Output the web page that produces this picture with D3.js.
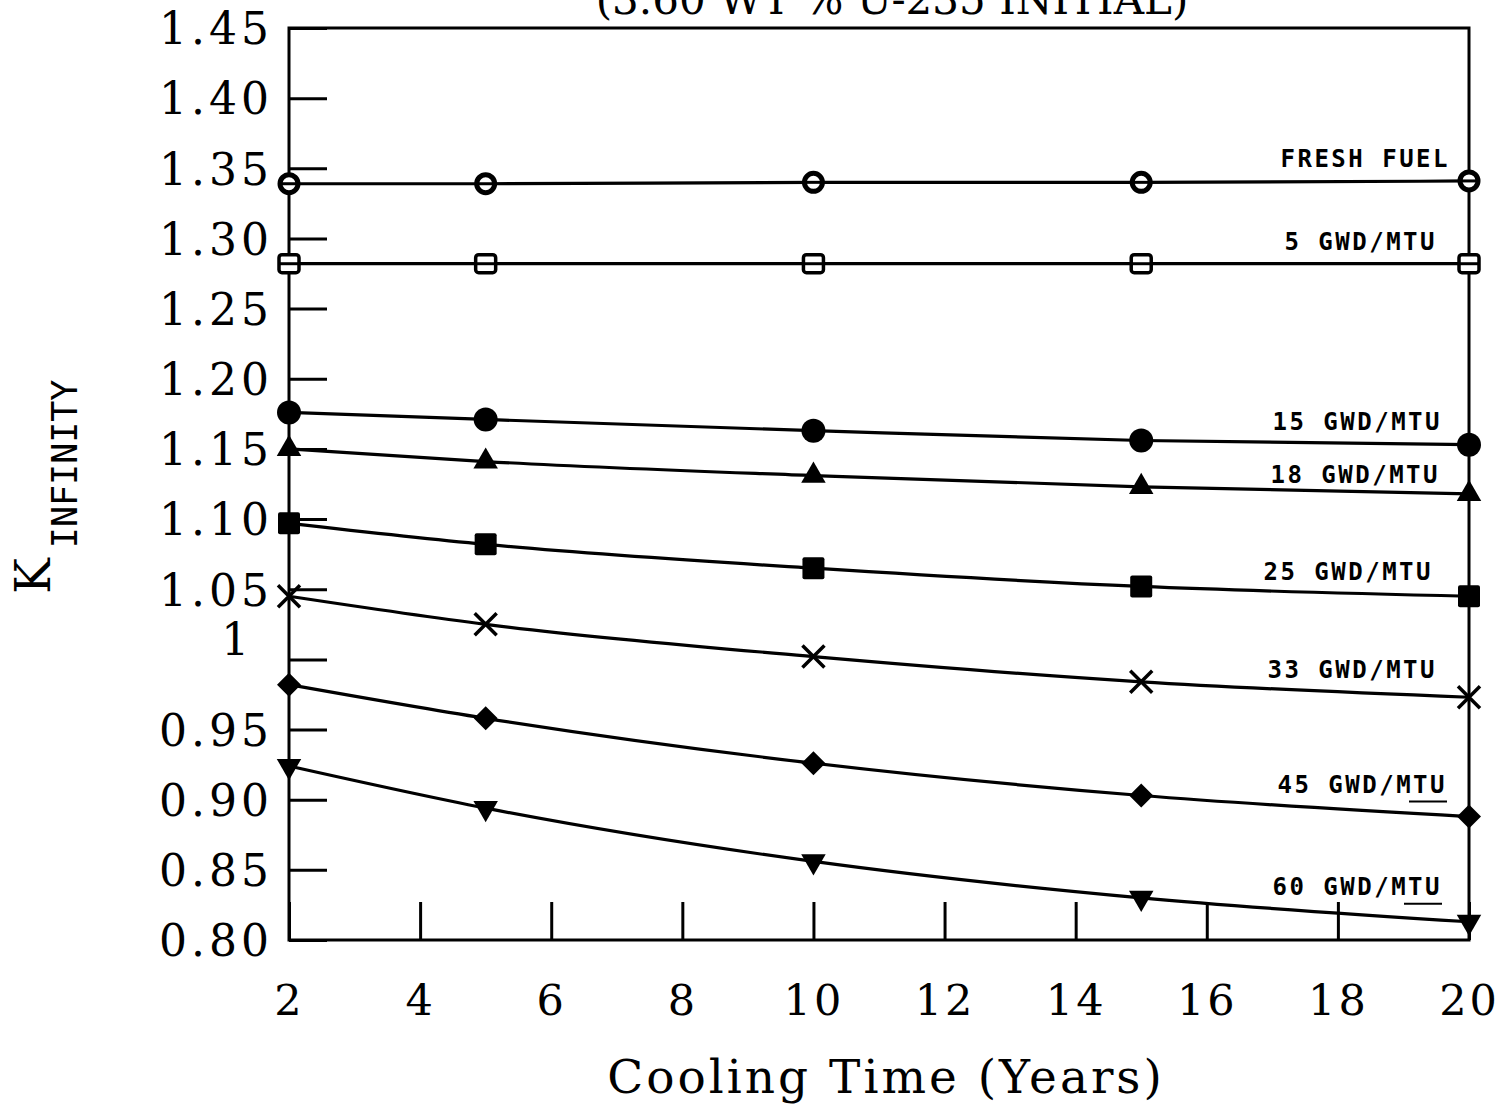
<!DOCTYPE html>
<html>
<head>
<meta charset="utf-8">
<script src="https://cdn.jsdelivr.net/npm/d3@7"></script>
<style>
  body { margin: 0; background: #fff; }
  svg { display: block; }
  .tick text { font-family: "DejaVu Serif", serif; fill: #000; }
  .lbl { font-family: "DejaVu Sans Mono", monospace; font-weight: bold; fill: #000; }
</style>
</head>
<body>
<svg id="chart" width="1504" height="1106"></svg>
<script>
// cooling times (years) where the calculations were done
const years = [2, 5, 10, 15, 20];

// k-infinity per burnup
const freshFuel = [1.339, 1.339, 1.340, 1.340, 1.341];
const gwd5  = [1.282, 1.282, 1.282, 1.282, 1.282];
const gwd15 = [1.176, 1.171, 1.163, 1.156, 1.153];
const gwd18 = [1.150, 1.141, 1.131, 1.123, 1.118];
const gwd25 = [1.097, 1.082, 1.065, 1.052, 1.045];
const gwd33 = [1.045, 1.025, 1.002, 0.984, 0.973];
const gwd45 = [0.982, 0.958, 0.926, 0.903, 0.888];
const gwd60 = [0.924, 0.894, 0.856, 0.830, 0.813];

const seriesNames = ["FRESH FUEL", "5 GWD/MTU", "15 GWD/MTU", "18 GWD/MTU",
                     "25 GWD/MTU", "33 GWD/MTU", "45 GWD/MTU", "60 GWD/MTU"];
const seriesValues = [freshFuel, gwd5, gwd15, gwd18, gwd25, gwd33, gwd45, gwd60];

const xTicks = [2, 4, 6, 8, 10, 12, 14, 16, 18, 20];
const yTicks = [0.80, 0.85, 0.90, 0.95, 1.00, 1.05, 1.10, 1.15, 1.20, 1.25, 1.30, 1.35, 1.40, 1.45];

// marker style + label placement per series
const markers = ["openCircle", "openSquare", "circle", "triangle", "square", "cross", "diamond", "triangleDown"];
const labelX  = [1450, 1437, 1442, 1440, 1433, 1437, 1447, 1442];
const labelDy = [-14, -14, -15, -11, -16, -19, -24, -27];

const svg = d3.select("#chart");
const plotL = 289, plotR = 1469, plotT = 28, plotB = 940;

const x = d3.scaleLinear().domain([2, 20]).range([plotL, plotR]);
const y = d3.scaleLinear().domain([0.80, 1.45]).range([plotB, plotT]);

// title, mostly cut off by the top of the page
svg.append("text")
    .attr("x", 892).attr("y", 14)
    .attr("text-anchor", "middle")
    .style("font-family", "DejaVu Serif, serif")
    .style("font-size", "42px")
    .text("(3.60 WT % U-235 INITIAL)");

const isOne = d => Math.abs(d - 1) < 1e-9;

// y axis, ticks pointing into the plot
const yAxis = svg.append("g")
    .attr("transform", `translate(${plotL},0)`)
    .call(d3.axisLeft(y).tickValues(yTicks)
        .tickSizeInner(-38).tickSizeOuter(0).tickPadding(16)
        .tickFormat(d => isOne(d) ? "1" : d3.format(".2f")(d)));
yAxis.select(".domain").remove();
yAxis.selectAll(".tick line").attr("stroke", "#000").attr("stroke-width", 3);
yAxis.selectAll(".tick text").style("font-size", "44px").attr("letter-spacing", "4px")
    .attr("dx", d => isOne(d) ? "-0.45em" : 0)
    .attr("dy", d => isOne(d) ? "-0.1em" : "0.36em");

// x axis, ticks pointing up
const xAxis = svg.append("g")
    .attr("transform", `translate(0,${plotB})`)
    .call(d3.axisBottom(x).tickValues(xTicks)
        .tickSizeInner(-38).tickSizeOuter(0).tickPadding(44));
xAxis.select(".domain").remove();
xAxis.selectAll(".tick line").attr("stroke", "#000").attr("stroke-width", 3);
xAxis.selectAll(".tick text").style("font-size", "43px").attr("letter-spacing", "3px");

// frame
svg.append("rect")
    .attr("x", plotL).attr("y", plotT)
    .attr("width", plotR - plotL).attr("height", plotB - plotT)
    .attr("fill", "none").attr("stroke", "#000").attr("stroke-width", 3);

// axis titles
svg.append("text")
    .attr("x", 886).attr("y", 1093)
    .attr("text-anchor", "middle")
    .style("font-family", "DejaVu Serif, serif")
    .style("font-size", "47px")
    .attr("letter-spacing", "3px")
    .text("Cooling Time (Years)");

const yTitle = svg.append("text")
    .attr("transform", "translate(50,594) rotate(-90)")
    .style("font-family", "DejaVu Serif, serif");
yTitle.append("tspan").style("font-size", "48px").text("K");
yTitle.append("tspan").attr("dy", 27).attr("dx", 10)
    .style("font-size", "35px")
    .style("font-family", "DejaVu Sans Mono, monospace")
    .text("INFINITY");

// curves
const line = d3.line()
    .x((d, i) => x(years[i]))
    .y(d => y(d))
    .curve(d3.curveMonotoneX);

const plot = svg.append("g");

seriesValues.forEach((vals, s) => {
    plot.append("path")
        .datum(vals)
        .attr("d", line)
        .attr("fill", "none")
        .attr("stroke", "#000")
        .attr("stroke-width", 3.2);
});

function drawMarker(g, type) {
    switch (type) {
        case "openCircle":
            g.append("circle").attr("r", 9).attr("fill", "#fff").attr("stroke", "#000").attr("stroke-width", 5);
            g.append("line").attr("x1", -9).attr("x2", 9).attr("stroke", "#000").attr("stroke-width", 3);
            break;
        case "openSquare":
            g.append("rect").attr("x", -10).attr("y", -9).attr("width", 20).attr("height", 18).attr("rx", 3)
                .attr("fill", "#fff").attr("stroke", "#000").attr("stroke-width", 3.5);
            g.append("line").attr("x1", -10).attr("x2", 10).attr("stroke", "#000").attr("stroke-width", 3);
            break;
        case "circle":
            g.append("circle").attr("r", 12).attr("fill", "#000");
            break;
        case "square":
            g.append("rect").attr("x", -11).attr("y", -11).attr("width", 22).attr("height", 22).attr("rx", 2).attr("fill", "#000");
            break;
        case "triangle":
            g.append("path").attr("d", d3.symbol(d3.symbolTriangle, 260)()).attr("fill", "#000");
            break;
        case "triangleDown":
            g.append("path").attr("d", d3.symbol(d3.symbolTriangle, 260)()).attr("transform", "rotate(180)").attr("fill", "#000");
            break;
        case "diamond":
            g.append("path").attr("d", "M0,-12L12,0L0,12L-12,0Z").attr("fill", "#000");
            break;
        case "cross":
            g.append("path").attr("d", "M-11,-11L11,11M-11,11L11,-11")
                .attr("stroke", "#000").attr("stroke-width", 3.5).attr("fill", "none");
            break;
    }
}

seriesValues.forEach((vals, s) => {
    vals.forEach((v, i) => {
        const g = plot.append("g").attr("transform", `translate(${x(years[i])},${y(v)})`);
        drawMarker(g, markers[s]);
    });
});

// labels above the right end of each curve
seriesNames.forEach((name, s) => {
    const last = seriesValues[s][seriesValues[s].length - 1];
    svg.append("text")
        .attr("class", "lbl")
        .attr("x", labelX[s])
        .attr("y", y(last) + labelDy[s])
        .attr("text-anchor", "end")
        .attr("letter-spacing", "2.5px")
        .style("font-size", "24px")
        .text(name);
});

// underlines under MTU in the two lowest labels
[6, 7].forEach(s => {
    const last = seriesValues[s][seriesValues[s].length - 1];
    const yy = y(last) + labelDy[s] + 9;
    svg.append("line")
        .attr("x1", labelX[s] - 38).attr("x2", labelX[s])
        .attr("y1", yy).attr("y2", yy)
        .attr("stroke", "#000").attr("stroke-width", 2);
});
</script>
</body>
</html>
